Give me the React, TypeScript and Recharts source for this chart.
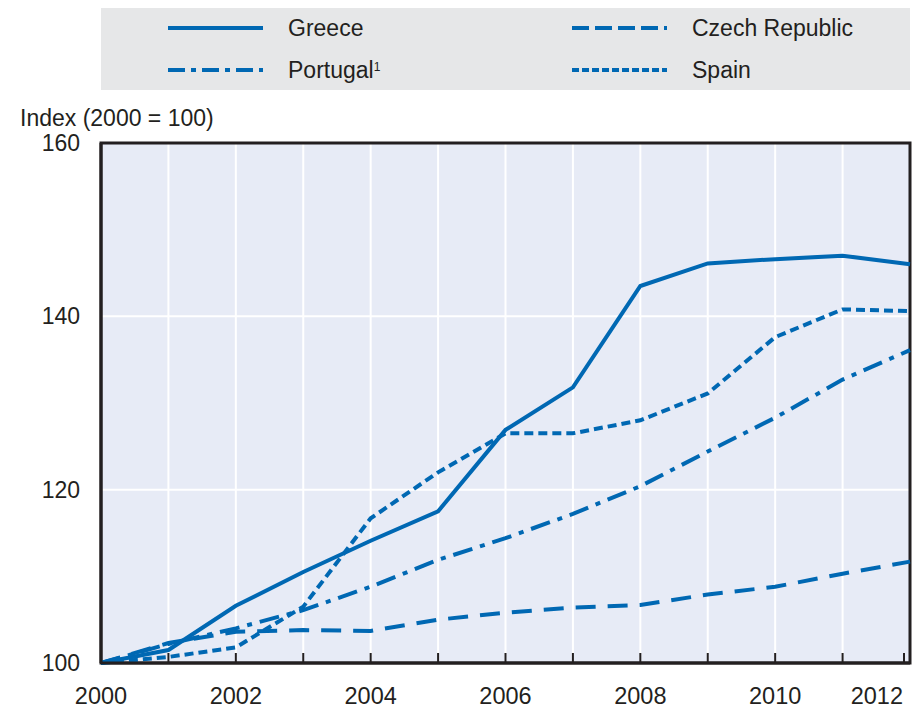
import { CartesianGrid, Line, LineChart, ReferenceArea, XAxis, YAxis } from 'recharts'

const years = [2000, 2001, 2002, 2003, 2004, 2005, 2006, 2007, 2008, 2009, 2010, 2011, 2012]
const greece = [100, 101.5, 106.6, 110.5, 114.1, 117.5, 126.9, 131.8, 143.5, 146.1, 146.6, 147.0, 146.0]
const czech = [100, 102.3, 103.6, 103.8, 103.7, 105.0, 105.8, 106.4, 106.7, 107.9, 108.8, 110.3, 111.7]
const portugal = [100, 102.2, 104.0, 106.1, 108.8, 111.9, 114.4, 117.2, 120.4, 124.4, 128.3, 132.7, 136.1]
const spain = [100, 100.7, 101.8, 106.5, 116.7, 122.0, 126.5, 126.5, 128.0, 131.1, 137.6, 140.8, 140.6]
const yTicks = [100, 120, 140, 160]

const BLUE = '#0068b3'
const INK = '#231f20'
const FONT = "'Liberation Sans', Arial, sans-serif"

const series = [
  { key: 'greece', name: 'Greece', dash: undefined as string | undefined },
  { key: 'czech', name: 'Czech Republic', dash: '20 12' },
  { key: 'portugal', name: 'Portugal', dash: '20 8 5 8' },
  { key: 'spain', name: 'Spain', dash: '9 5' },
]

const data = years.map((year, i) => ({
  year,
  greece: greece[i],
  czech: czech[i],
  portugal: portugal[i],
  spain: spain[i],
}))

function YearTick(props: any) {
  const { x, y, payload } = props
  const v = payload.value as number
  const last = v === years[years.length - 1]
  return (
    <g>
      <line x1={x} x2={x} y1={y} y2={y - 10} stroke={INK} strokeWidth={2} />
      {v % 2 === 0 && (
        <text
          x={last ? x - 1 : x}
          y={y + 33}
          textAnchor={last ? 'end' : 'middle'}
          dominantBaseline="central"
          fill={INK}
          fontSize={23.5}
          fontFamily={FONT}
        >
          {v}
        </text>
      )}
    </g>
  )
}

function LegendItem({ name, dash, sup }: { name: string; dash?: string; sup?: boolean }) {
  return (
    <div style={{ display: 'flex', alignItems: 'center', height: 42 }}>
      <svg width={95} height={10} style={{ marginRight: 25 }}>
        <line x1={0} x2={95} y1={5} y2={5} stroke={BLUE} strokeWidth={4} strokeDasharray={dash} />
      </svg>
      <span>
        {name}
        {sup && <sup style={{ fontSize: 12, verticalAlign: 'top', position: 'relative', top: 3 }}>1</sup>}
      </span>
    </div>
  )
}

export default function App() {
  return (
    <div
      style={{
        position: 'absolute',
        left: 0,
        top: 0,
        width: 920,
        height: 709,
        background: '#fff',
        fontFamily: FONT,
        color: INK,
        fontSize: 23,
      }}
    >
      <div
        style={{
          position: 'absolute',
          left: 101,
          top: 8,
          width: 809,
          height: 82,
          background: '#e6e7e8',
          display: 'grid',
          gridTemplateColumns: '404px 405px',
          alignContent: 'center',
        }}
      >
        <div style={{ paddingLeft: 67 }}>
          <LegendItem name="Greece" />
          <LegendItem name="Portugal" dash="17 6 5 6" sup />
        </div>
        <div style={{ paddingLeft: 67 }}>
          <LegendItem name="Czech Republic" dash="17 6" />
          <LegendItem name="Spain" dash="7 3" />
        </div>
      </div>
      <div style={{ position: 'absolute', left: 20, top: 104, lineHeight: '28px' }}>Index (2000 = 100)</div>
      <LineChart width={920} height={709} data={data} margin={{ top: 143, right: 10, bottom: 6, left: 41 }}>
        <CartesianGrid stroke="#ffffff" strokeWidth={2} fill="#e7ebf6" />
        <XAxis
          dataKey="year"
          type="number"
          domain={[2000, 2012]}
          ticks={years}
          tickLine={false}
          tickSize={0}
          tickMargin={0}
          height={40}
          axisLine={{ stroke: INK, strokeWidth: 3 }}
          tick={<YearTick />}
        />
        <YAxis
          type="number"
          domain={[100, 160]}
          ticks={yTicks}
          width={60}
          tickLine={false}
          tickSize={0}
          tickMargin={21}
          axisLine={{ stroke: INK, strokeWidth: 3 }}
          tick={{ fill: INK, fontSize: 23, fontFamily: FONT }}
        />
        {series.map((s) => (
          <Line
            key={s.key}
            type="linear"
            dataKey={s.key}
            name={s.name}
            stroke={BLUE}
            strokeWidth={4}
            strokeDasharray={s.dash}
            dot={false}
            activeDot={false}
            isAnimationActive={false}
          />
        ))}
        <ReferenceArea
          x1={2000}
          x2={2012}
          y1={100}
          y2={160}
          fill="none"
          stroke={INK}
          strokeWidth={3}
          ifOverflow="visible"
        />
      </LineChart>
    </div>
  )
}
